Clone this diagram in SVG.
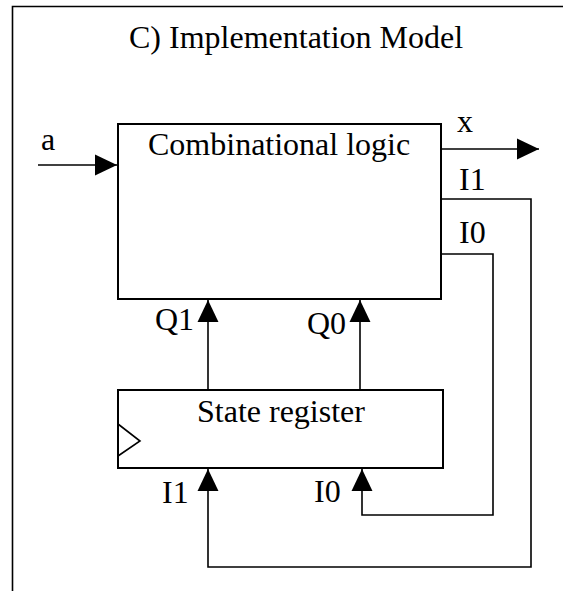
<svg xmlns="http://www.w3.org/2000/svg" width="563" height="591" viewBox="0 0 563 591">
  <style>
    .t { font-family: "Liberation Serif", "Times New Roman", serif; font-size: 32px; fill: #000; }
    .box { fill: #fff; stroke: #000; stroke-width: 2; }
    .w { fill: none; stroke: #000; stroke-width: 1.6; }
  </style>
  <defs>
    <marker id="ah" markerUnits="userSpaceOnUse" markerWidth="22" markerHeight="22" viewBox="0 0 21 20" refX="21" refY="10" orient="auto">
      <path d="M0,0 L21,10 L0,20 Z" fill="#000"/>
    </marker>
  </defs>
  <rect width="563" height="591" fill="#fff"/>
  <path d="M12.5,591 V6.5 H563" fill="none" stroke="#000" stroke-width="1.6"/>
  <text class="t" x="129" y="48">C) Implementation Model</text>

  <g id="comb">
    <rect class="box" x="118" y="124" width="323" height="175"/>
    <text class="t" x="148" y="155">Combinational logic</text>
  </g>
  <g id="statereg">
    <rect class="box" x="118" y="390" width="325" height="78"/>
    <path d="M118,424 L140,441 L118,456" fill="none" stroke="#000" stroke-width="1.6"/>
    <text class="t" x="197" y="422">State register</text>
  </g>

  <g id="connectors">
    <path class="w" d="M38,165 H117" marker-end="url(#ah)"/>
    <path class="w" d="M441,149 H539" marker-end="url(#ah)"/>
    <path class="w" d="M208,390 V300" marker-end="url(#ah)"/>
    <path class="w" d="M360,390 V300" marker-end="url(#ah)"/>
    <path class="w" d="M441,199 H531 V567 H208 V469" marker-end="url(#ah)"/>
    <path class="w" d="M441,254 H493 V515 H362 V469" marker-end="url(#ah)"/>
  </g>

  <g id="labels">
    <text class="t" x="41" y="150">a</text>
    <text class="t" x="457" y="132">x</text>
    <text class="t" x="459" y="190">I1</text>
    <text class="t" x="459" y="243">I0</text>
    <text class="t" x="155" y="330">Q1</text>
    <text class="t" x="307" y="334">Q0</text>
    <text class="t" x="162" y="503">I1</text>
    <text class="t" x="314" y="502">I0</text>
  </g>
</svg>
